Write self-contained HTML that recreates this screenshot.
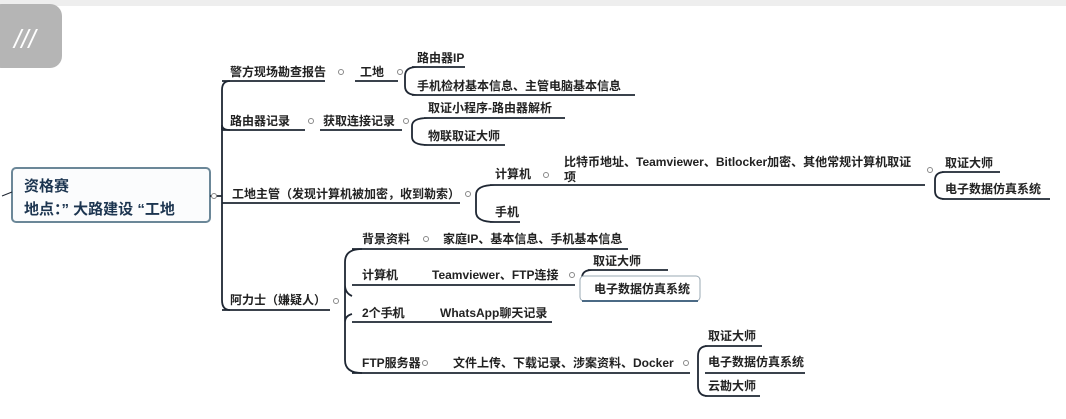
<!DOCTYPE html>
<html><head><meta charset="utf-8"><style>
html,body{margin:0;padding:0;background:#fff;}
svg text{font-family:"Liberation Sans","Noto Sans CJK SC",sans-serif;font-size:12px;font-weight:bold;fill:#222;}
</style></head><body>
<svg width="1066" height="414" viewBox="0 0 1066 414" xmlns="http://www.w3.org/2000/svg">
<rect x="0" y="0" width="1066" height="6" fill="#eeeeee"/>
<rect x="-10" y="4" width="72" height="64" rx="12" fill="#b5b5b5"/>
<text x="14" y="48" style="font-size:26px;font-weight:normal;fill:#fff;font-style:italic">///</text>
<g fill="none" stroke="#1f2733" stroke-width="1.8">
<rect x="12" y="168" width="198" height="54" rx="4" stroke="#6b8798" stroke-width="2" fill="#fbfcfd"/>
<path d="M2 196 L12 192" stroke-width="1"/>
<path d="M230 81 Q222 81 222 90 L222 300 Q222 310 230 310"/>
<path d="M222 130 L222 125 Q222 130 230 130"/>
<path d="M210 196 L222 196 M222 203 L460 203"/>
<path d="M222 81 L325 81 M355 81 L398 81"/>
<path d="M417 67 Q405 67 405 76 L405 86 Q405 95 417 95 M412 67 L465 67 M412 95 L635 95"/>
<path d="M222 130 L305 130 M320 130 L402 130"/>
<path d="M428 118 Q412 118 412 126 L412 137 Q412 145 428 145 M424 118 L565 118 M424 145 L505 145"/>
<path d="M495 185 Q476 185 476 195 L476 212 Q476 222 495 222 M490 185 L925 185 M490 222 L520 222"/>
<path d="M945 172 Q935 172 935 180 L935 191 Q935 199 945 199 M942 172 L1000 172 M942 199 L1050 199"/>
<path d="M222 310 L330 310"/>
<path d="M362 249 Q345 249 345 262 L345 360 Q345 373 362 373 M345 285 Q345 293 352 296 M345 322 Q345 316 352 314"/>
<path d="M352 249 L628 249 M352 285 L575 285 M352 322 L552 322 M352 373 L690 373"/>
<path d="M592 270 Q582 270 582 278 L582 286 Q582 293 588 294 M588 270 L668 270"/>
<path d="M708 346 Q698 346 698 356 L698 386 Q698 396 708 396 M705 346 L762 346 M705 373 L805 373 M705 396 L760 396"/>
</g>
<rect x="580" y="276" width="120" height="25" rx="4" fill="#fff" stroke="#9aa8b3" stroke-width="1"/>
<path d="M582 301 L698 301" stroke="#4b6a85" stroke-width="2"/>
<g fill="#fff" stroke="#888" stroke-width="1">
<circle cx="341" cy="72" r="2.5"/><circle cx="400" cy="72" r="2.5"/>
<circle cx="311" cy="121" r="2.5"/><circle cx="406" cy="121" r="2.5"/>
<circle cx="468" cy="194" r="2.5"/><circle cx="546" cy="175" r="2.5"/><circle cx="930" cy="170" r="2.5"/>
<circle cx="214" cy="196" r="2.5"/>
<circle cx="336" cy="301" r="2.5"/><circle cx="426" cy="239" r="2.5"/><circle cx="385" cy="275" r="2.5"/>
<circle cx="572" cy="275" r="2.5"/><circle cx="393" cy="313" r="2.5"/><circle cx="425" cy="363" r="2.5"/><circle cx="686" cy="363" r="2.5"/>
</g>
<text x="24" y="191" style="font-size:15px;fill:#1c3550">资格赛</text>
<text x="24" y="214" style="font-size:15px;fill:#1c3550">地点：” 大路建设 “工地</text>
<text x="230" y="76">警方现场勘查报告</text>
<text x="360" y="76">工地</text>
<text x="417" y="62">路由器IP</text>
<text x="417" y="90">手机检材基本信息、主管电脑基本信息</text>
<text x="230" y="125">路由器记录</text>
<text x="323" y="125">获取连接记录</text>
<text x="428" y="112">取证小程序-路由器解析</text>
<text x="428" y="140">物联取证大师</text>
<text x="232" y="198">工地主管（发现计算机被加密，收到勒索）</text>
<text x="495" y="178">计算机</text>
<text x="564" y="166">比特币地址、Teamviewer、Bitlocker加密、其他常规计算机取证</text>
<text x="564" y="181">项</text>
<text x="945" y="167">取证大师</text>
<text x="945" y="193">电子数据仿真系统</text>
<text x="495" y="216">手机</text>
<text x="230" y="304">阿力士（嫌疑人）</text>
<text x="362" y="243">背景资料</text>
<text x="443" y="243">家庭IP、基本信息、手机基本信息</text>
<text x="362" y="279">计算机</text>
<text x="432" y="279">Teamviewer、FTP连接</text>
<text x="593" y="265">取证大师</text>
<text x="594" y="293">电子数据仿真系统</text>
<text x="362" y="317">2个手机</text>
<text x="440" y="317">WhatsApp聊天记录</text>
<text x="362" y="367">FTP服务器</text>
<text x="453" y="367">文件上传、下载记录、涉案资料、Docker</text>
<text x="708" y="340">取证大师</text>
<text x="708" y="366">电子数据仿真系统</text>
<text x="708" y="390">云勘大师</text>
</svg>
</body></html>
